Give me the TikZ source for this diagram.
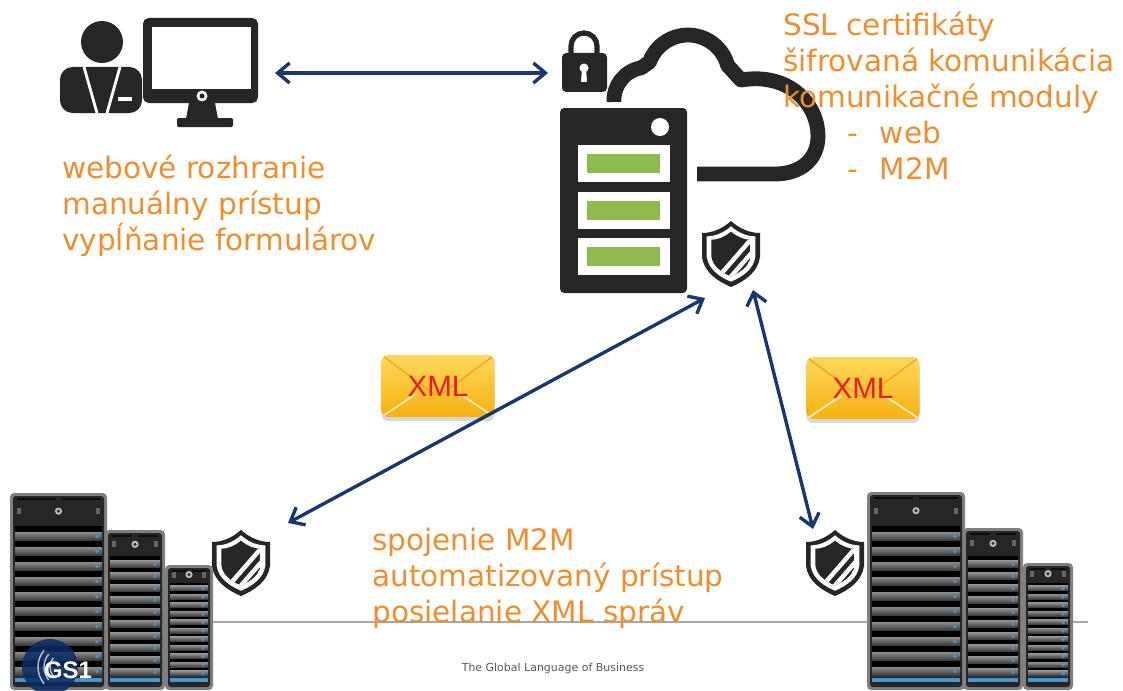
\documentclass[tikz,border=0pt]{standalone}
\usepackage{fontspec}
\setmainfont{DejaVu Sans}
\newfontfamily\arialfont{Liberation Sans}
\usetikzlibrary{arrows.meta,shadows}

\definecolor{noteorange}{RGB}{240,142,46}
\definecolor{linkblue}{RGB}{24,54,112}
\definecolor{icondark}{RGB}{38,38,38}
\definecolor{bargreen}{RGB}{142,186,78}
\definecolor{envtop}{RGB}{255,216,90}
\definecolor{envbottom}{RGB}{246,176,18}
\definecolor{xmlred}{RGB}{230,30,36}
\definecolor{ledblue}{RGB}{70,150,210}
\definecolor{gsblue}{RGB}{10,45,100}

\tikzset{
  note/.style={text=noteorange, font=\fontsize{21}{25.6}\selectfont, align=left, inner sep=0pt, anchor=base west},
  link/.style={draw=linkblue, line width=2.4pt, {Straight Barb[length=0.3cm,width=0.5cm]}-{Straight Barb[length=0.3cm,width=0.5cm]}},
  flapdark/.style={draw=envbottom!70!brown, line width=0.8pt},
  flaplight/.style={draw=white!60!envtop, line width=1.2pt},
  envelope/.style={rounded corners=5pt, top color=envtop, bottom color=envbottom, minimum width=2.83cm, minimum height=1.55cm, inner sep=0pt,
    text=xmlred, font=\arialfont\fontsize{21}{21}\selectfont,
    drop shadow={shadow xshift=0pt, shadow yshift=-3pt, opacity=0.3, fill=gray},
    path picture={
      \draw[flapdark] (path picture bounding box.north west) -- ([yshift=-0.27cm]path picture bounding box.center) -- (path picture bounding box.north east);
      \draw[flaplight] (path picture bounding box.south west) -- ([xshift=-0.55cm,yshift=-0.2cm]path picture bounding box.center);
      \draw[flaplight] (path picture bounding box.south east) -- ([xshift=0.55cm,yshift=-0.2cm]path picture bounding box.center);
    }},
  tagline/.style={text=black!65, font=\fontsize{7.8}{9}\selectfont, inner sep=0pt},
  gstext/.style={text=white, font=\arialfont\bfseries\fontsize{17}{17}\selectfont, inner sep=0pt},
  rackedge/.style={fill=black!50},
  rackbody/.style={fill=black!85},
  shieldoutline/.style={insert path={(0,-33) .. controls (-9,-25) and (-19,-21) .. (-29,-21) -- (-29,3)
    .. controls (-27,18) and (-14,27) .. (0,33) .. controls (14,27) and (27,18) .. (29,3) -- (29,-21)
    .. controls (19,-21) and (9,-25) .. (0,-33) -- cycle}}
}

% shield badge: outer rim, white ring, striped core
\newcommand{\shield}[1]{%
  \begin{scope}[shift={#1}]
    \fill[icondark, shieldoutline];
    \fill[white, scale=0.84, shieldoutline];
    \begin{scope}
      \clip[scale=0.68, shieldoutline];
      \fill[icondark, scale=0.68, shieldoutline];
      \draw[white, line width=0.11cm] (-24,36) -- (30,-26);
      \draw[white, line width=0.11cm] (-17,42) -- (37,-20);
    \end{scope}
  \end{scope}}

% rack tower: left, top, width, height, bays, bay pitch
\newcommand{\rack}[6]{%
  \begin{scope}[shift={(#1,#2)}]
    \pgfmathsetmacro\paneltop{#4-14-#5*#6}
    \pgfmathsetmacro\btn{0.55*\paneltop}
    \fill[rackedge, rounded corners=3pt] (0,0) rectangle (#3,#4);
    \fill[rackbody, rounded corners=2pt] (3,3) rectangle ({#3-3},{#4-3});
    \fill[black!95] (7,5) rectangle ({#3/2-3},7);
    \fill[black!95] ({#3/2+3},5) rectangle ({#3-7},7);
    \fill[black!60] (7,{\btn-3}) rectangle (11,{\btn+3});
    \fill[black!60] ({#3-11},{\btn-3}) rectangle ({#3-7},{\btn+3});
    \fill[black!25] ({#3/2},\btn) circle (3.6);
    \fill[black!80] ({#3/2},\btn) circle (1.8);
    \foreach \k in {1,...,#5} {
      \pgfmathsetmacro\baytop{\paneltop+(\k-1)*#6}
      \fill[black] (5,\baytop) rectangle ({#3-5},{\baytop+0.4*#6});
      \shade[top color=black!45, bottom color=black!80] (5,{\baytop+0.4*#6}) rectangle ({#3-5},{\baytop+#6});
      \fill[ledblue] ({#3-10},{\baytop+0.7*#6}) circle (1.8);
    }
    \fill[ledblue] (5,{#4-12}) rectangle ({#3-5},{#4-8});
  \end{scope}}

\begin{document}
\begin{tikzpicture}[x=0.025cm, y=-0.025cm]
  \useasboundingbox (0,0) rectangle (1123,690);
  \fill[white] (0,0) rectangle (1123,690);

  % operator at the desk
  \fill[icondark] (102,42) circle (21);
  \fill[icondark, rounded corners=9pt] (60,113) -- (60,67) -- (142,67) -- (142,113) -- cycle;
  \draw[white, line width=0.07cm] (84,67) -- (97,113);
  \draw[white, line width=0.07cm] (120,67) -- (107,113);
  \draw[white, line width=0.08cm] (118,99) -- (132,99);
  \fill[icondark, rounded corners=4pt] (143,18) rectangle (258,103);
  \fill[white] (152,27) rectangle (251,89);
  \fill[white] (202,96) circle (5.5);
  \fill[icondark] (202,96) circle (2.5);
  \fill[icondark] (189,103) -- (215,103) -- (218,119) -- (186,119) -- cycle;
  \fill[icondark, rounded corners=1pt] (177,118) rectangle (233,127);

  % padlock
  \draw[icondark, line width=0.13cm] (571,56) -- (571,46) arc[start angle=180, end angle=360, radius=13] -- (597,56);
  \fill[icondark, rounded corners=3pt] (562,53) rectangle (607,92);
  \fill[white] (584,68) circle (4.5);
  \fill[white] (582,68) -- (586,68) -- (587,82) -- (581,82) -- cycle;

  % cloud outline
  \draw[icondark, line width=0.37cm, line join=round] (614,102) arc[start angle=177, end angle=260, radius=33]
    -- (649.5,62) arc[start angle=200, end angle=345, radius=41]
    -- (741,80) .. controls (790,72) and (818,105) .. (818,136)
    .. controls (818,160) and (800,174) .. (775,174) -- (697,174);

  % hosting server
  \fill[icondark, rounded corners=3pt] (560,108) rectangle (687,293);
  \fill[white] (660,127) circle (9);
  \foreach \y in {145,192,238} {
    \fill[white] (578,\y) rectangle (670,\y+37);
    \fill[bargreen] (587,\y+9) rectangle (660,\y+28);
  }

  \shield{(731,254)}
  \shield{(241,563)}
  \shield{(835,563)}

  % floor rule
  \draw[black!35, line width=0.9pt] (213,622) -- (1088,622);

  % client racks
  \rack{165}{565}{48}{125}{11}{8.5}
  \rack{105}{530}{60}{160}{10}{12}
  \rack{10}{493}{97}{197}{10}{15}
  \rack{1023}{563}{50}{127}{11}{8.5}
  \rack{963}{528}{60}{162}{10}{12}
  \rack{867}{492}{98}{198}{10}{15}

  % logo
  \fill[gsblue, fill opacity=0.85] (50,667) circle (28);
  \foreach \r in {14,20,26}
    \draw[white, line width=1pt, opacity=0.7] (64,667) ++(140:\r) arc[start angle=140, end angle=220, radius=\r];
  \node[gstext] (gs) at (68,670) {GS1};
  \node[tagline] (slogan) at (553,668) {The Global Language of Business};

  % messages
  \node[envelope] (xmlleft) at (438,386) {XML};
  \node[envelope] (xmlright) at (863,388) {XML};

  % connections
  \coordinate (desk) at (275,73);
  \coordinate (lock) at (548,73);
  \coordinate (hubleft) at (705,298);
  \coordinate (hubright) at (753,290);
  \coordinate (clientleft) at (288,523);
  \coordinate (clientright) at (813,529);
  \draw[link] (desk) -- (lock);
  \draw[link] (clientleft) -- (hubleft);
  \draw[link] (clientright) -- (hubright);

  % captions (anchored on the last line)
  \node[note] (web) at (62,250) {webové rozhranie\\manuálny prístup\\vypĺňanie formulárov};
  \node[note] (ssl) at (783,179) {SSL certifikáty\\šifrovaná komunikácia\\komunikačné moduly\\\hspace*{1.6cm}-\hspace{0.55cm}web\\\hspace*{1.6cm}-\hspace{0.55cm}M2M};
  \node[note] (m2m) at (372,622) {spojenie M2M\\automatizovaný prístup\\posielanie XML správ};
\end{tikzpicture}
\end{document}
